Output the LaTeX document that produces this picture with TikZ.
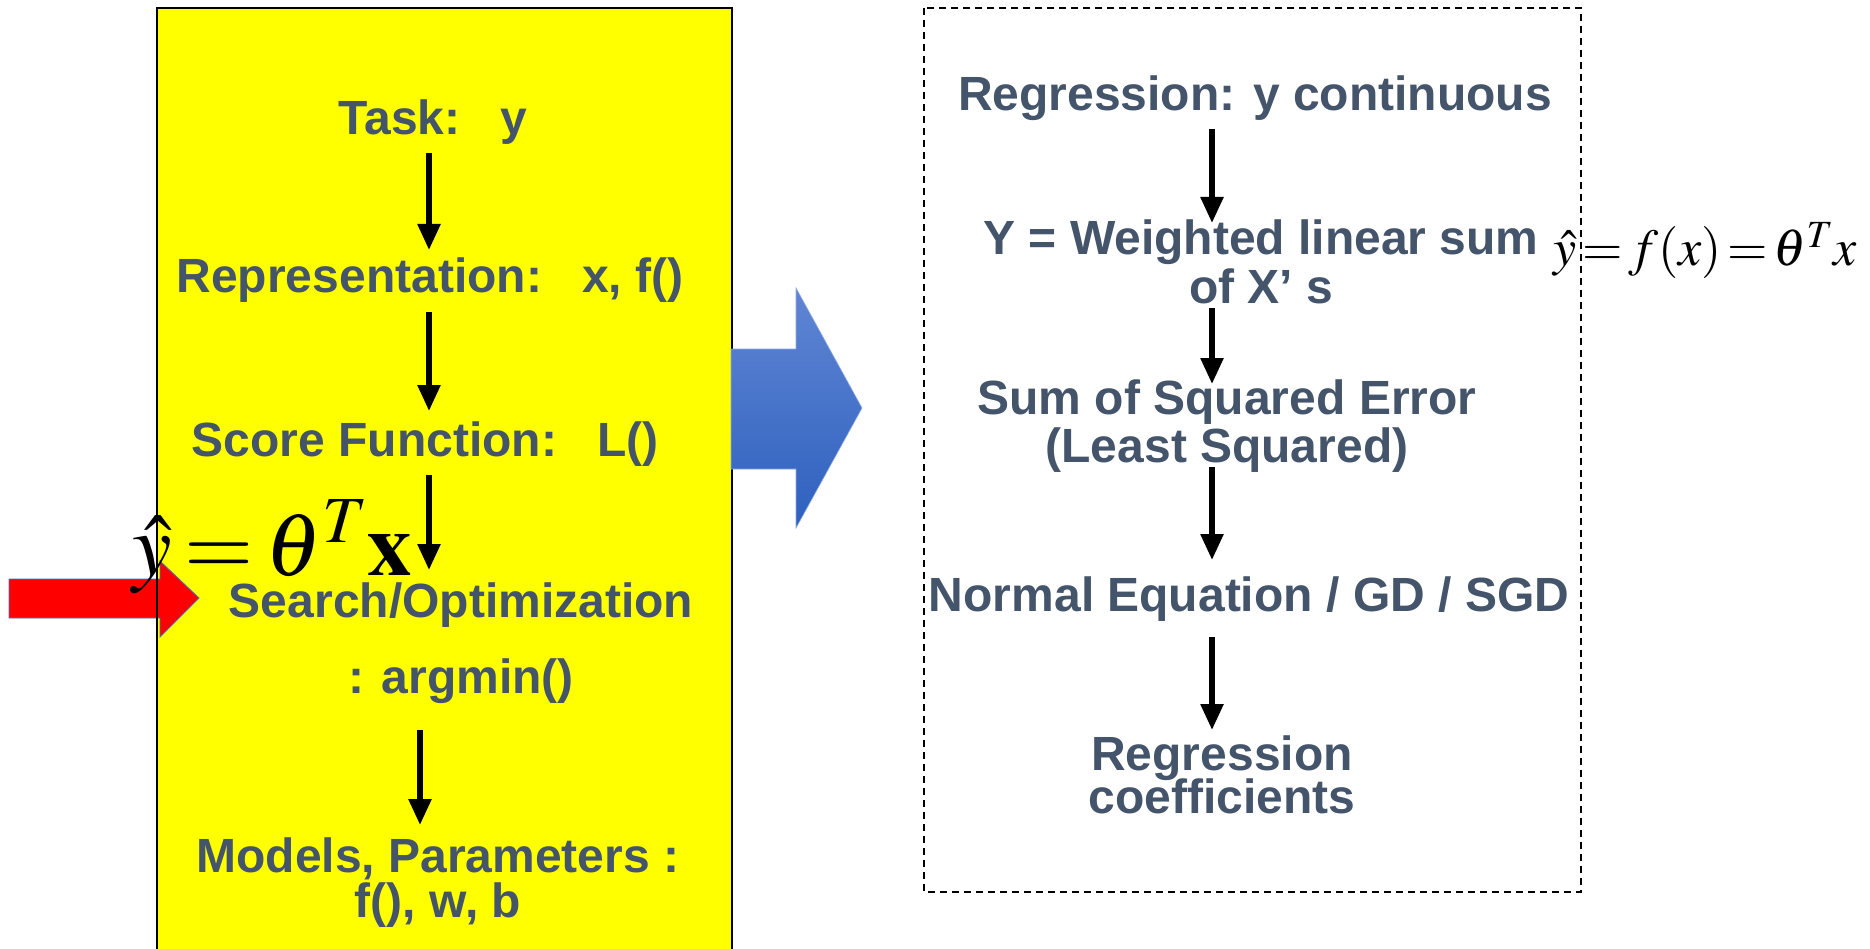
\documentclass[tikz,border=0pt]{standalone}
\usepackage{mathptmx}
\usepackage[no-math]{fontspec}
\setsansfont{Liberation Sans}
\usetikzlibrary{arrows.meta}
\definecolor{txt}{RGB}{68,84,106}
\definecolor{yel}{RGB}{255,255,0}
\definecolor{redf}{RGB}{255,0,0}
\definecolor{blueT}{RGB}{96,134,212}
\definecolor{blueB}{RGB}{46,96,190}
\definecolor{outl}{RGB}{68,114,196}
\tikzset{
  lbl/.style={font=\sffamily\bfseries\fontsize{48}{50}\selectfont, text=txt, inner sep=0pt, anchor=base},
  flow/.style={line width=5.5pt, -{Triangle[width=22pt,length=26pt]}},
  bigarrow/.style={draw=outl, line width=0.8pt},
}
\begin{document}
\begin{tikzpicture}[x=1pt,y=-1pt]
\useasboundingbox (0,0) rectangle (1870,949);
\clip (0,0) rectangle (1870,949);
% yellow panel
\fill[yel] (157,8) rectangle (732,970);
% red arrow
\path[bigarrow, fill=redf] (9,579) -- (160,579) -- (160,561) -- (199,598) -- (160,637) -- (160,618) -- (9,618) -- cycle;
\draw[line width=2.5pt] (157,8) rectangle (732,970);
% blue arrow
\path[draw=blueT!70!white, line width=0.6pt, top color=blueT, bottom color=blueB] (731,349) -- (796,349) -- (796,288) -- (862,408) -- (796,528) -- (796,469) -- (731,469) -- cycle;
% dashed panel
\draw[line width=1.5pt, dash pattern=on 7pt off 5pt] (924,8) rectangle (1581,892);

% left column texts
\node[lbl] (task) at (433,135) {Task:\ \ \ y};
\node[lbl] (rep) at (430,293) {Representation:\ \ \ x, f()};
\node[lbl] (score) at (425,456) {Score Function:\ \ \ L()};
\node[lbl] (search) at (461,617) {Search/Optimization};
\node[lbl] (argmin) at (461,693) {: argmin()};
\node[lbl] (models) at (438,872) {Models, Parameters :};
\node[lbl] (models2) at (438,917) {f(), w, b};

% right column texts
\node[lbl] (regr) at (1255,111) {Regression: y continuous};
\node[lbl] (wsum) at (1261,255) {Y = Weighted linear sum};
\node[lbl] (wsum2) at (1261,304) {of X’ s};
\node[lbl] (sse) at (1227,414) {Sum of Squared Error};
\node[lbl] (sse2) at (1227,462) {(Least Squared)};
\node[lbl] (normal) at (1249,611) {Normal Equation / GD / SGD};
\node[lbl] (coef) at (1222,770) {Regression};
\node[lbl] (coef2) at (1222,813) {coefficients};

% connector ends
\coordinate (l1a) at (429,153); \coordinate (l1b) at (429,250);
\coordinate (l2a) at (429,312); \coordinate (l2b) at (429,411);
\coordinate (l3a) at (429,475); \coordinate (l3b) at (429,570);
\coordinate (l4a) at (420,730); \coordinate (l4b) at (420,825);
\coordinate (r1a) at (1212,129); \coordinate (r1b) at (1212,223);
\coordinate (r2a) at (1212,308); \coordinate (r2b) at (1212,384);
\coordinate (r3a) at (1212,467); \coordinate (r3b) at (1212,560);
\coordinate (r4a) at (1212,637); \coordinate (r4b) at (1212,730);
\draw[flow] (l1a) -- (l1b);
\draw[flow] (l2a) -- (l2b);
\draw[flow] (l3a) -- (l3b);
\draw[flow] (l4a) -- (l4b);
\draw[flow] (r1a) -- (r1b);
\draw[flow] (r2a) -- (r2b);
\draw[flow] (r3a) -- (r3b);
\draw[flow] (r4a) -- (r4b);

% equations
\node[anchor=base west, inner sep=0pt, font=\fontsize{89}{92}\selectfont] (eqL) at (132,575) {$\thickmuskip=2.5mu\hat{y}=\theta^{T}\mathbf{x}$};
\node[anchor=base west, inner sep=0pt, font=\fontsize{52}{54}\selectfont] (eqR) at (1553,266) {$\thickmuskip=2mu\hat{y}=f(x)=\theta^{T}x$};
\end{tikzpicture}
\end{document}
